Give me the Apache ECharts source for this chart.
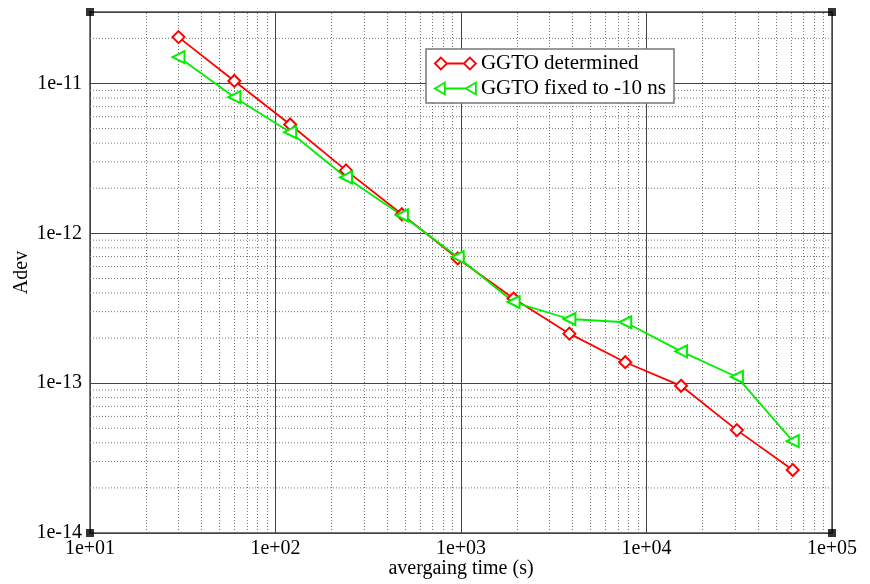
<!DOCTYPE html>
<html>
<head>
<meta charset="utf-8">
<script src="https://cdn.jsdelivr.net/npm/echarts@6/dist/echarts.min.js"></script>
<style>
html,body{margin:0;padding:0;background:#fff;}
#chart{width:870px;height:584px;}
</style>
</head>
<body>
<div id="chart"></div>
<script>
// ---- data ----
const tau = [30, 60, 120, 240, 480, 960, 1920, 3840, 7680, 15360, 30720, 61440];
const adevDetermined = [2.04e-11, 1.04e-11, 5.33e-12, 2.63e-12, 1.34e-12, 6.8e-13, 3.67e-13, 2.14e-13, 1.38e-13, 9.6e-14, 4.86e-14, 2.63e-14];
const adevFixed = [1.50e-11, 8.1e-12, 4.73e-12, 2.36e-12, 1.32e-12, 6.95e-13, 3.48e-13, 2.68e-13, 2.55e-13, 1.63e-13, 1.10e-13, 4.1e-14];
const seriesNames = ['GGTO determined', 'GGTO fixed to -10 ns'];
const xDecades = [10, 100, 1000, 10000];
const yDecades = [1e-14, 1e-13, 1e-12, 1e-11];
const mantissas = [2, 3, 4, 5, 6, 7, 8, 9];
const xMin = 10, xMax = 1e5, yMin = 1e-14, yMax = 3e-11;

const minorX = [];
xDecades.forEach(d => mantissas.forEach(m => minorX.push(m * d)));
const minorY = [];
yDecades.forEach(d => mantissas.forEach(m => { const v = m * d; if (v < yMax * 0.999) minorY.push(v); }));

const font = 'Liberation Serif, Times New Roman, serif';
function expLabel(v) {
  const e = Math.round(Math.log10(v));
  const a = Math.abs(e);
  return '1e' + (e < 0 ? '-' : '+') + (a < 10 ? '0' + a : a);
}

// horizontal minor grid as broken line segments
const minorYSegments = [];
minorY.forEach(v => { minorYSegments.push([xMin, v], [xMax, v], [xMax, '-']); });

const minorStyle = {type: [1, 2], color: '#777', width: 1};

const chart = echarts.init(document.getElementById('chart'), null, {renderer: 'canvas'});
const option = {
  backgroundColor: '#fff',
  animation: false,
  grid: {left: 90, right: 38, top: 12, bottom: 51, show: true, borderColor: '#777', borderWidth: 2, backgroundColor: 'transparent'},
  legend: {
    orient: 'vertical', left: 426, top: 49,
    padding: [4, 8, 4, 8], itemGap: 4, itemWidth: 41, itemHeight: 12,
    backgroundColor: '#fff', borderColor: '#777', borderWidth: 1.5, borderRadius: 0,
    textStyle: {fontFamily: font, fontSize: 21, color: '#000'},
    data: [
      {name: seriesNames[0], icon: 'path://M0,6L6,0L12,6L6,12ZM12,6L29,6M29,6L35,0L41,6L35,12Z',
       itemStyle: {color: '#fff', borderColor: '#ff0000', borderWidth: 1.8}},
      {name: seriesNames[1], icon: 'path://M0,6L10,0L10,12ZM10,6L31,6M31,6L41,0L41,12Z',
       itemStyle: {color: '#fff', borderColor: '#00ee00', borderWidth: 1.8}}
    ]
  },
  xAxis: {
    type: 'log', logBase: 10, min: xMin, max: xMax,
    name: 'avergaing time (s)', nameLocation: 'middle', nameGap: 26, nameMoveOverlap: false,
    nameTextStyle: {fontFamily: font, fontSize: 20, color: '#000'},
    axisLine: {show: false}, axisTick: {show: false},
    axisLabel: {fontFamily: font, fontSize: 20, color: '#000', margin: 6, formatter: expLabel},
    splitLine: {show: true, lineStyle: {color: '#444', width: 1}}
  },
  yAxis: {
    type: 'log', logBase: 10, min: yMin, max: yMax,
    name: 'Adev', nameLocation: 'middle', nameGap: 58, nameMoveOverlap: false,
    nameTextStyle: {fontFamily: font, fontSize: 20, color: '#000'},
    axisLine: {show: false}, axisTick: {show: false},
    axisLabel: {fontFamily: font, fontSize: 20, color: '#000', margin: 8, formatter: expLabel, showMaxLabel: false},
    splitLine: {show: true, lineStyle: {color: '#444', width: 1}}
  },
  series: [
    {
      name: 'minorGridX', type: 'line', data: [], silent: true, z: 1,
      markLine: {
        silent: true, symbol: ['none', 'none'], z: 1, animation: false,
        label: {show: false},
        lineStyle: minorStyle,
        data: minorX.map(v => ({xAxis: v}))
      }
    },
    {
      name: 'minorGridY', type: 'line', data: minorYSegments, silent: true, z: 1,
      symbol: 'none', connectNulls: false, lineStyle: minorStyle
    },
    {
      name: seriesNames[0], type: 'line', z: 3,
      data: tau.map((t, i) => [t, adevDetermined[i]]),
      symbol: 'emptyDiamond', symbolSize: 12,
      lineStyle: {color: '#ff0000', width: 1.8},
      itemStyle: {color: '#ff0000', borderColor: '#ff0000', borderWidth: 1.8}
    },
    {
      name: seriesNames[1], type: 'line', z: 3,
      data: tau.map((t, i) => [t, adevFixed[i]]),
      symbol: 'emptyTriangle', symbolSize: 12, symbolRotate: 90,
      lineStyle: {color: '#00ee00', width: 1.8},
      itemStyle: {color: '#00ee00', borderColor: '#00ee00', borderWidth: 1.8}
    },
    {
      name: 'corners', type: 'scatter', z: 10, silent: true, clip: false,
      data: [[xMin, yMax], [xMax, yMax], [xMin, yMin], [xMax, yMin]],
      symbol: 'rect', symbolSize: 8,
      itemStyle: {color: '#000'}
    }
  ]
};
chart.setOption(option);
</script>
</body>
</html>
